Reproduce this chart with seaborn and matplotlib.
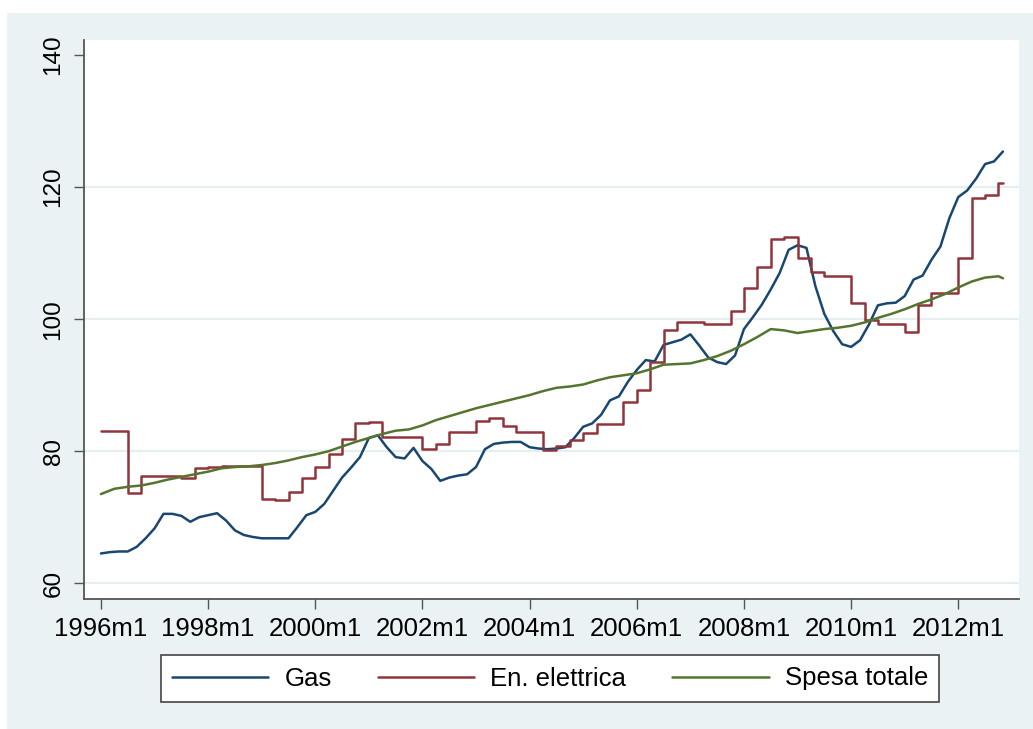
import numpy as np
import pandas as pd
import matplotlib
matplotlib.use("Agg")
import matplotlib.pyplot as plt
from matplotlib.patches import Rectangle
import seaborn as sns

# months counted from 1996m1
gas_months = np.arange(0, 203, 2)
gas = [64.5, 64.7, 64.8, 64.8, 65.5, 66.8, 68.3, 70.5, 70.5, 70.2,
       69.3, 70.0, 70.3, 70.6, 69.5, 68.0, 67.3, 67.0, 66.8, 66.8,
       66.8, 66.8, 68.5, 70.3, 70.8, 72.0, 74.0, 76.0, 77.5, 79.1,
       82.0, 82.4, 80.6, 79.1, 78.9, 80.5, 78.5, 77.3, 75.5, 76.0,
       76.3, 76.5, 77.6, 80.3, 81.1, 81.3, 81.4, 81.4, 80.6, 80.4,
       80.3, 80.4, 80.6, 82.0, 83.7, 84.2, 85.5, 87.7, 88.3, 90.5,
       92.3, 93.8, 93.6, 96.1, 96.5, 96.9, 97.7, 96.0, 94.2, 93.5,
       93.2, 94.5, 98.5, 100.3, 102.2, 104.5, 107.0, 110.5, 111.2, 110.8,
       105.0, 100.8, 98.2, 96.2, 95.8, 96.8, 99.2, 102.1, 102.4, 102.5,
       103.5, 106.0, 106.6, 109.0, 111.0, 115.3, 118.5, 119.5, 121.3, 123.5,
       123.9, 125.4]

quarter_months = list(range(0, 202, 3)) + [202]
elettrica = [83.0, 83.0, 73.6, 76.3, 76.3, 76.2, 76.0, 77.4, 77.6, 77.7,
             77.7, 77.7, 72.8, 72.6, 73.8, 76.0, 77.6, 79.5, 81.8, 84.2,
             84.4, 82.1, 82.1, 82.1, 80.4, 81.1, 82.9, 82.9, 84.5, 85.0,
             83.8, 82.9, 82.9, 80.2, 80.8, 81.7, 82.7, 84.1, 84.1, 87.4,
             89.2, 93.5, 98.3, 99.6, 99.5, 99.3, 99.3, 101.3, 104.7, 107.9,
             112.1, 112.5, 109.2, 107.1, 106.5, 106.5, 102.4, 99.8, 99.3, 99.3,
             98.0, 102.1, 103.9, 103.9, 109.2, 118.3, 118.8, 120.6, 120.6]
spesa = [73.5, 74.3, 74.6, 74.8, 75.2, 75.7, 76.1, 76.5, 76.9, 77.4,
         77.6, 77.7, 77.9, 78.2, 78.6, 79.1, 79.5, 80.0, 80.7, 81.4,
         82.0, 82.6, 83.1, 83.3, 83.9, 84.7, 85.3, 85.9, 86.5, 87.0,
         87.5, 88.0, 88.5, 89.1, 89.6, 89.8, 90.1, 90.7, 91.2, 91.5,
         91.8, 92.4, 93.1, 93.2, 93.3, 93.8, 94.4, 95.2, 96.2, 97.3,
         98.5, 98.3, 97.9, 98.2, 98.5, 98.7, 99.0, 99.5, 100.2, 100.8,
         101.5, 102.3, 103.0, 103.8, 104.8, 105.7, 106.3, 106.5, 106.2]

series_labels = ["Gas", "En. elettrica", "Spesa totale"]
series_colors = ["#1a476f", "#90353b", "#55752f"]

x_ticks = list(range(0, 193, 24))
x_ticklabels = [f"{1996 + t // 12}m1" for t in x_ticks]
y_ticks = [60, 80, 100, 120, 140]
grid_levels = [60, 80, 100, 120]

sns.set_theme(style="white")
plt.rcParams["font.family"] = ["Liberation Sans", "DejaVu Sans"]
plt.rcParams["text.color"] = "black"

fig = plt.figure(figsize=(10.33, 7.29), dpi=100, facecolor="white")
# Stata-like light panel behind the plot region
panel = Rectangle((7 / 1033, 0), 1 - 7 / 1033, 1 - 13 / 729,
                  transform=fig.transFigure, facecolor="#eaf2f3",
                  edgecolor="none", zorder=-10)
fig.patches.append(panel)
ax = fig.add_axes([84 / 1033, 1 - 599 / 729, (1019 - 84) / 1033, (599 - 40) / 729])
ax.set_facecolor("white")
ax.set_zorder(1)

for lvl in grid_levels:
    ax.axhline(lvl, color="#e6eff0", lw=1.6, zorder=0)

gas_df = pd.DataFrame({"month": gas_months, "value": gas})
q_df = pd.DataFrame({"month": quarter_months, "elettrica": elettrica, "spesa": spesa})

sns.lineplot(data=gas_df, x="month", y="value", ax=ax, color=series_colors[0],
             lw=1.8, label=series_labels[0], legend=False)
sns.lineplot(data=q_df, x="month", y="elettrica", ax=ax, color=series_colors[1],
             lw=1.8, drawstyle="steps-post", label=series_labels[1], legend=False)
sns.lineplot(data=q_df, x="month", y="spesa", ax=ax, color=series_colors[2],
             lw=1.8, label=series_labels[2], legend=False)

ax.set_xlim(-3.8, 205.6)
ax.set_ylim(57.6, 142.3)
ax.set_xticks(x_ticks)
ax.set_xticklabels(x_ticklabels, fontsize=18.5)
ax.set_yticks(y_ticks)
ax.set_yticklabels([str(v) for v in y_ticks], fontsize=17.5, rotation=90, va="center")
ax.tick_params(axis="both", which="major", length=7, width=1.0, color="#555555",
               direction="out", left=True, bottom=True, labelcolor="black")
ax.tick_params(axis="x", pad=6)
ax.tick_params(axis="y", pad=7)
ax.set_xlabel("")
ax.set_ylabel("")

for side in ["top", "right"]:
    ax.spines[side].set_visible(False)
for side in ["left", "bottom"]:
    ax.spines[side].set_color("#555555")
    ax.spines[side].set_linewidth(1.3)

handles = ax.get_lines()[len(grid_levels):]
leg = fig.legend(handles, series_labels, loc="center", bbox_to_anchor=(550 / 1033, 1 - 678.5 / 729),
                 ncol=3, fontsize=18.5, frameon=True, fancybox=False, handlelength=3.75,
                 handletextpad=0.62, columnspacing=1.8, borderpad=0.45)
leg.get_frame().set_edgecolor("#444444")
leg.get_frame().set_linewidth(1.2)
leg.get_frame().set_facecolor("white")
leg.get_frame().set_alpha(1)
for txt in leg.get_texts():
    txt.set_color("black")

fig.savefig("out.png", dpi=100, facecolor=fig.get_facecolor())
